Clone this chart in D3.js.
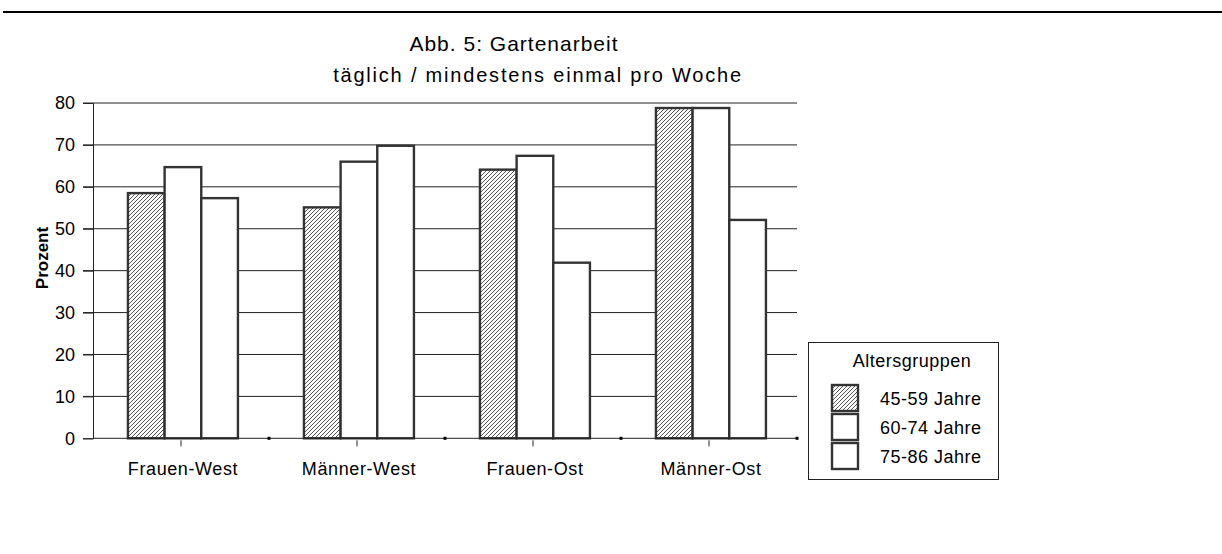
<!DOCTYPE html>
<html><head><meta charset="utf-8">
<script src="https://cdn.jsdelivr.net/npm/d3@7"></script>
<style>body{margin:0;background:#fff}svg{display:block;font-family:"Liberation Sans",Arial,sans-serif}</style>
</head><body><svg id="c" width="1222" height="554"></svg>
<script>
const categories = ["Frauen-West","Männer-West","Frauen-Ost","Männer-Ost"];
const seriesNames = ["45-59 Jahre","60-74 Jahre","75-86 Jahre"];
const s4559 = [58.5, 55.1, 64.1, 78.8];
const s6074 = [64.7, 66.0, 67.4, 78.8];
const s7586 = [57.3, 69.8, 41.9, 52.1];
const yTicks = [0,10,20,30,40,50,60,70,80];
const seriesValues = [s4559, s6074, s7586];

const svg = d3.select("#c");
const defs = svg.append("defs");
const pat = defs.append("pattern").attr("id","hatch").attr("patternUnits","userSpaceOnUse")
  .attr("width",4).attr("height",4);
pat.append("rect").attr("width",4).attr("height",4).attr("fill","#fff");
pat.append("path").attr("d","M-1,5 L5,-1 M-1,1 L1,-1 M3,5 L5,3").attr("stroke","#444").attr("stroke-width",0.9);

// top rule
svg.append("line").attr("x1",3).attr("x2",1222).attr("y1",12).attr("y2",12).attr("stroke","#000").attr("stroke-width",2.2);

const L=93, R=797, T=103, B=438.3;
const y = d3.scaleLinear().domain([0,80]).range([B,T]);
const x0 = d3.scaleBand().domain(categories).range([L,R]);
const bw = x0.bandwidth();
const x1 = d3.scaleBand().domain(d3.range(3)).range([bw*0.1985, bw*0.8235]);

// grid
const g = svg.append("g");
g.selectAll("line.grid").data(yTicks.filter(d=>d>0)).join("line")
  .attr("x1",L-10).attr("x2",R).attr("y1",d=>y(d)).attr("y2",d=>y(d))
  .attr("stroke","#222").attr("stroke-width",1);
// y axis
const yAxis = d3.axisLeft(y).tickValues(yTicks).tickSize(10).tickPadding(8);
const ya = svg.append("g").attr("transform",`translate(${L},0)`).call(yAxis);
ya.select(".domain").attr("stroke","#222");
ya.selectAll(".tick line").attr("stroke","#222");
ya.selectAll("text").attr("font-size",18).attr("fill","#000").attr("font-family","Liberation Sans, Arial, sans-serif");

// bars
const groups = svg.append("g").selectAll("g").data(categories).join("g")
  .attr("transform",d=>`translate(${x0(d)},0)`);
groups.selectAll("rect").data((d,i)=>seriesValues.map((s,k)=>({k,v:s[i]}))).join("rect")
  .attr("x",d=>x1(d.k)).attr("width",x1.bandwidth())
  .attr("y",d=>y(d.v)).attr("height",d=>B-y(d.v))
  .attr("fill",d=>d.k===0?"url(#hatch)":"#fff")
  .attr("stroke","#333").attr("stroke-width",2.4);

// x axis
svg.append("line").attr("x1",L).attr("x2",R).attr("y1",B).attr("y2",B).attr("stroke","#222");
svg.append("g").selectAll("line").data(categories).join("line")
  .attr("x1",d=>x0(d)+bw/2).attr("x2",d=>x0(d)+bw/2).attr("y1",B+2).attr("y2",B+8)
  .attr("stroke","#222");
svg.append("g").selectAll("rect").data(categories).join("rect")
  .attr("x",d=>x0(d)+bw-1.5).attr("y",B-1.5).attr("width",3).attr("height",3).attr("fill","#000");
svg.append("g").selectAll("text").data(categories).join("text")
  .attr("x",d=>x0(d)+bw/2+2).attr("y",475).attr("text-anchor","middle")
  .attr("font-size",18).attr("letter-spacing",0.6).text(d=>d);

// titles
svg.append("text").attr("x",514).attr("y",51).attr("text-anchor","middle").attr("font-size",21).attr("letter-spacing",1).text("Abb. 5: Gartenarbeit");
svg.append("text").attr("x",538).attr("y",82).attr("text-anchor","middle").attr("font-size",20).attr("letter-spacing",1.8).text("täglich / mindestens einmal pro Woche");

// y label
svg.append("text").attr("transform","translate(48,258) rotate(-90)").attr("text-anchor","middle")
  .attr("font-size",17).attr("font-weight","bold").text("Prozent");

// legend
const lg = svg.append("g");
lg.append("rect").attr("x",808.5).attr("y",342.5).attr("width",190).attr("height",137)
  .attr("fill","#fff").attr("stroke","#222").attr("stroke-width",1);
lg.append("text").attr("x",912).attr("y",367).attr("text-anchor","middle").attr("font-size",18).attr("letter-spacing",0.5).text("Altersgruppen");
const items = lg.selectAll("g.it").data(seriesNames).join("g")
  .attr("transform",(d,i)=>`translate(832,${385+i*29})`);
items.append("rect").attr("width",26).attr("height",26)
  .attr("fill",(d,i)=>i===0?"url(#hatch)":"#fff").attr("stroke","#333").attr("stroke-width",2.4);
items.append("text").attr("x",48).attr("y",20).attr("font-size",18).attr("letter-spacing",0.5).text(d=>d);
</script></body></html>
